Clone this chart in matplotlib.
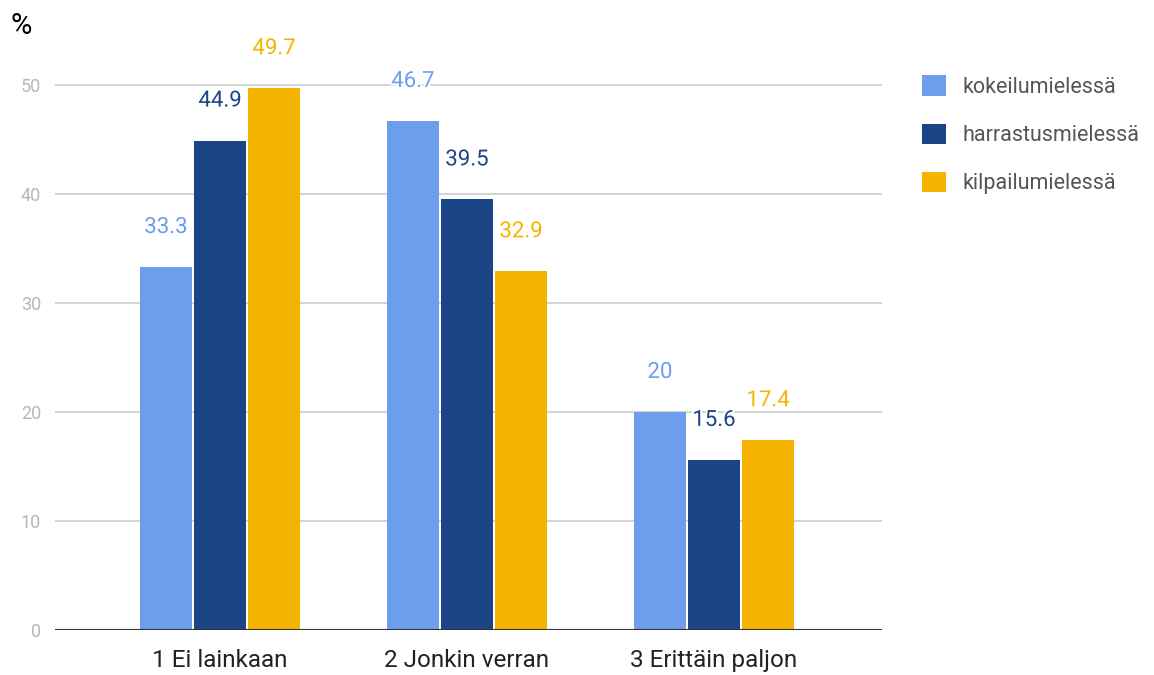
import numpy as np
import matplotlib.pyplot as plt
import matplotlib.patheffects as pe
from matplotlib.patches import Patch

plt.rcParams['font.family'] = ['Roboto', 'DejaVu Sans']

categories = ['1 Ei lainkaan', '2 Jonkin verran', '3 Erittäin paljon']
series = ['kokeilumielessä', 'harrastusmielessä', 'kilpailumielessä']
kokeilu = [33.3, 46.7, 20]
harrastus = [44.9, 39.5, 15.6]
kilpailu = [49.7, 32.9, 17.4]
colors = ['#6d9eeb', '#1c4587', '#f4b400']

fig = plt.figure(figsize=(11.54, 6.75), dpi=100)
ax = fig.add_axes([0.0477, 0.0667, 0.7166, 0.888])

x = np.arange(len(categories))
width = 0.21
step = 0.219
for i, (vals, col) in enumerate(zip([kokeilu, harrastus, kilpailu], colors)):
    pos = x + (i - 1) * step
    ax.bar(pos, vals, width, color=col, zorder=3)
    for px, v in zip(pos, vals):
        txt = ax.annotate(f'{v:g}', (px, v), xytext=(0, 28.5), textcoords='offset points',
                          ha='center', va='center', fontsize=16, color=col, zorder=5)
        txt.set_path_effects([pe.withStroke(linewidth=3, foreground='white')])

ax.set_xlim(-0.668, 2.68)
ax.set_ylim(0, 55)
ax.set_yticks(range(0, 51, 10))
ax.grid(axis='y', color='#cccccc', linewidth=1.2, zorder=0)
ax.axhline(0, color='#333333', linewidth=1.5, zorder=4)
for s in ax.spines.values():
    s.set_visible(False)
ax.tick_params(axis='y', length=0, pad=10, labelsize=13, labelcolor='#b7b7b7')
ax.tick_params(axis='x', length=0, pad=14, labelsize=17.5, labelcolor='#222222')
ax.set_xticks(x)
ax.set_xticklabels(categories)

fig.text(0.009, 0.962, '%', fontsize=21, color='black', va='center', ha='left')

handles = [Patch(facecolor=c, edgecolor='none') for c in colors]
fig.legend(handles, series, loc='upper left', bbox_to_anchor=(0.7826, 0.917),
           frameon=False, fontsize=15.5, labelcolor='#555555', handlelength=1.07,
           handleheight=1.07, labelspacing=1.2, handletextpad=0.8)

fig.savefig('out.png', dpi=100)
